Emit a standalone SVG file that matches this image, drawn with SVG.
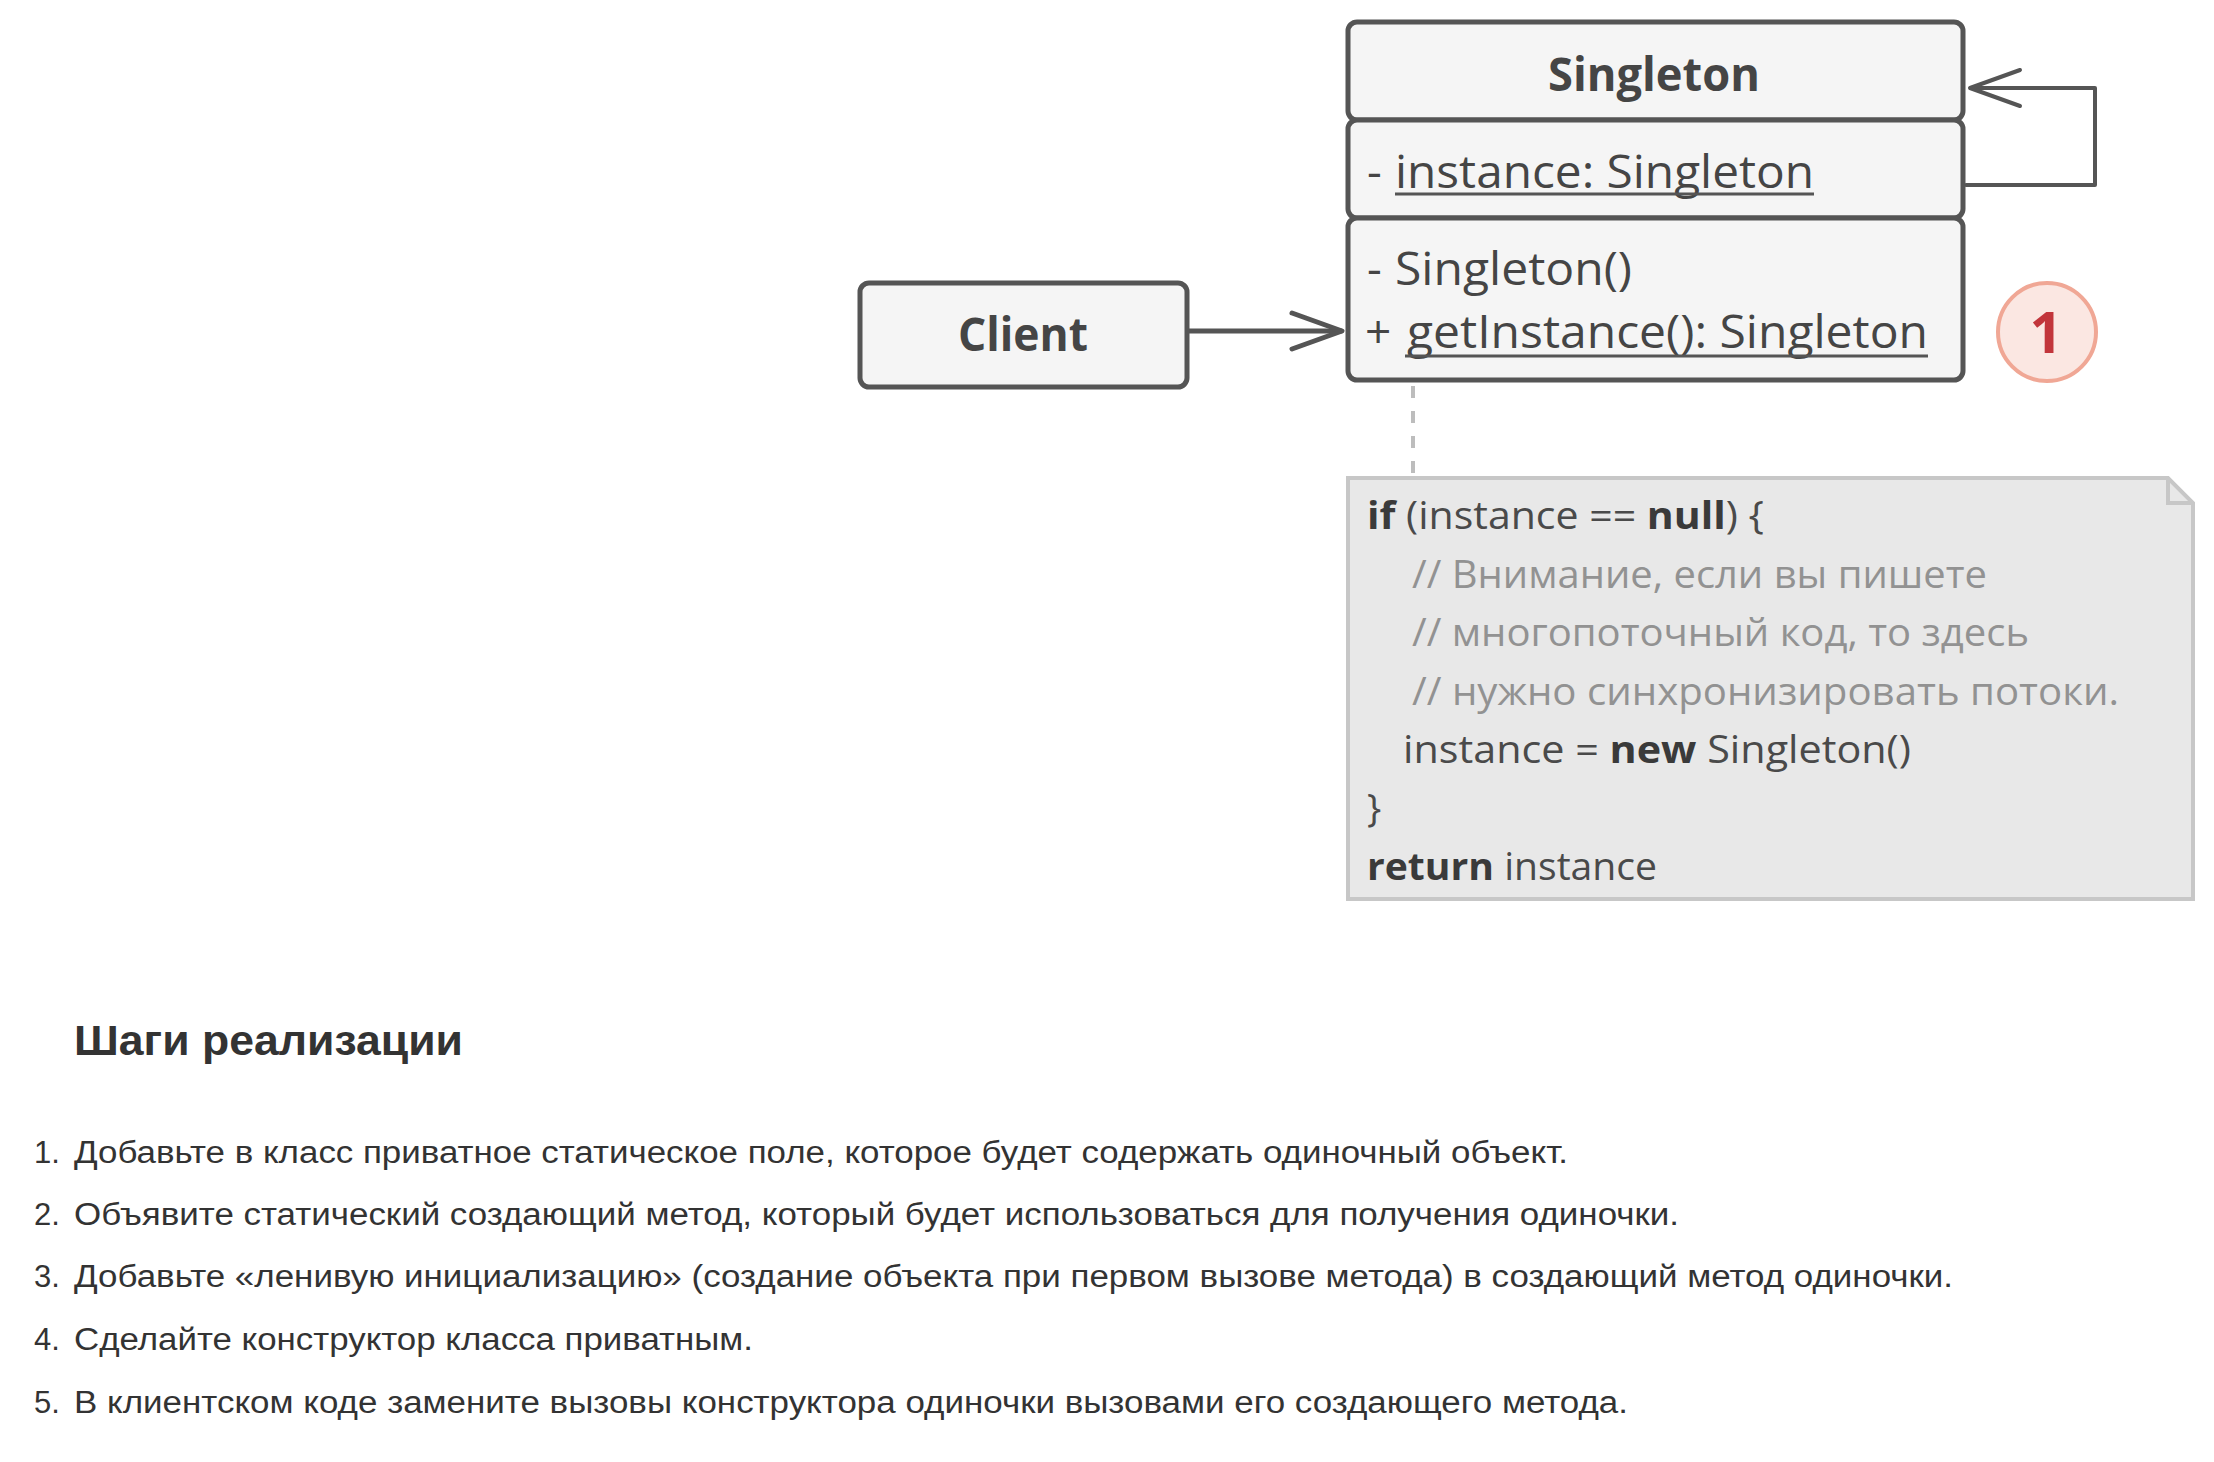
<svg xmlns="http://www.w3.org/2000/svg" width="2214" height="1462" viewBox="0 0 2214 1462">
<style>
.box{fill:#f5f5f5;stroke:#555;stroke-width:5}
.ui{font-family:"Open Sans","Noto Sans","Liberation Sans",sans-serif;fill:#454545}
.b{font-weight:bold}
.ul{stroke:#555;stroke-width:3}
.con{fill:none;stroke:#555;stroke-linecap:round;stroke-linejoin:round}
.code{font-family:"Open Sans","Noto Sans","Liberation Sans",sans-serif;font-size:38px;fill:#4a4a4a}
.kw{font-weight:bold;fill:#3a3a3a}
.cm{fill:#929292}
.doc{font-family:"Liberation Sans",Arial,sans-serif;fill:#333}
</style>
<rect width="2214" height="1462" fill="#fff"/>
<g id="connectors">
  <line class="con" x1="1187" y1="331" x2="1341" y2="331" stroke-width="5"/>
  <polyline class="con" points="1292,313 1342,331 1292,349" stroke-width="5"/>
  <polyline class="con" points="1966,185 2095,185 2095,88 1972,88" stroke-width="4"/>
  <polyline class="con" points="2020,70 1970,88 2020,106" stroke-width="4"/>
  <line x1="1413" y1="386" x2="1413" y2="476" stroke="#bdbdbd" stroke-width="4" stroke-dasharray="12 13"/>
</g>
<g id="client">
  <rect class="box" x="860" y="283" width="327" height="104" rx="9"/>
  <text class="ui b" x="958" y="351" font-size="46" textLength="130" lengthAdjust="spacingAndGlyphs">Client</text>
</g>
<g id="singleton">
  <rect class="box" x="1348" y="22" width="615" height="98" rx="9"/>
  <rect class="box" x="1348" y="120" width="615" height="98" rx="9"/>
  <rect class="box" x="1348" y="218" width="615" height="162" rx="9"/>
  <text class="ui b" x="1548" y="91" font-size="46" textLength="212" lengthAdjust="spacingAndGlyphs">Singleton</text>
  <text class="ui" x="1367" y="188" font-size="46">-</text>
  <text class="ui" x="1395" y="188" font-size="46" textLength="419" lengthAdjust="spacingAndGlyphs">instance: Singleton</text>
  <line class="ul" x1="1395" y1="194" x2="1814" y2="194"/>
  <text class="ui" x="1367" y="285" font-size="46">-</text>
  <text class="ui" x="1395" y="285" font-size="46" textLength="237" lengthAdjust="spacingAndGlyphs">Singleton()</text>
  <text class="ui" x="1365" y="348" font-size="46">+</text>
  <text class="ui" x="1407" y="348" font-size="46" textLength="521" lengthAdjust="spacingAndGlyphs">getInstance(): Singleton</text>
  <line class="ul" x1="1405" y1="356" x2="1928" y2="356"/>
</g>
<g id="step1">
  <circle cx="2047" cy="332" r="49" fill="#fbe7e2" stroke="#f0a795" stroke-width="4"/>
  <text x="2046" y="353" text-anchor="middle" font-family="'Open Sans','Noto Sans',sans-serif" font-weight="bold" font-size="58" fill="#c2353b">1</text>
</g>
<g id="note">
  <polygon points="1348,478 2168,478 2193,503 2193,899 1348,899" fill="#e8e8e8" stroke="#c7c7c7" stroke-width="4"/>
  <polyline points="2168,478 2168,503 2193,503" fill="none" stroke="#c7c7c7" stroke-width="4"/>
  <text class="code" x="1367" y="529" textLength="397" lengthAdjust="spacingAndGlyphs"><tspan class="kw">if</tspan> (instance == <tspan class="kw">null</tspan>) {</text>
  <text class="code cm" x="1412" y="588" textLength="575" lengthAdjust="spacingAndGlyphs">// Внимание, если вы пишете</text>
  <text class="code cm" x="1412" y="646" textLength="617" lengthAdjust="spacingAndGlyphs">// многопоточный код, то здесь</text>
  <text class="code cm" x="1412" y="705" textLength="707" lengthAdjust="spacingAndGlyphs">// нужно синхронизировать потоки.</text>
  <text class="code" x="1403" y="763" textLength="508" lengthAdjust="spacingAndGlyphs">instance = <tspan class="kw">new</tspan> Singleton()</text>
  <text class="code" x="1367" y="822">}</text>
  <text class="code" x="1367" y="880" textLength="290" lengthAdjust="spacingAndGlyphs"><tspan class="kw">return</tspan> instance</text>
</g>
<g id="steps">
  <text class="doc" x="74" y="1055" font-size="43" font-weight="bold" textLength="389" lengthAdjust="spacingAndGlyphs">Шаги реализации</text>
  <text class="doc" x="34" y="1163" font-size="31">1.</text>
  <text class="doc" x="74" y="1163" font-size="31" textLength="1494" lengthAdjust="spacingAndGlyphs">Добавьте в класс приватное статическое поле, которое будет содержать одиночный объект.</text>
  <text class="doc" x="34" y="1225" font-size="31">2.</text>
  <text class="doc" x="74" y="1225" font-size="31" textLength="1605" lengthAdjust="spacingAndGlyphs">Объявите статический создающий метод, который будет использоваться для получения одиночки.</text>
  <text class="doc" x="34" y="1287" font-size="31">3.</text>
  <text class="doc" x="74" y="1287" font-size="31" textLength="1879" lengthAdjust="spacingAndGlyphs">Добавьте «ленивую инициализацию» (создание объекта при первом вызове метода) в создающий метод одиночки.</text>
  <text class="doc" x="34" y="1350" font-size="31">4.</text>
  <text class="doc" x="74" y="1350" font-size="31" textLength="679" lengthAdjust="spacingAndGlyphs">Сделайте конструктор класса приватным.</text>
  <text class="doc" x="34" y="1413" font-size="31">5.</text>
  <text class="doc" x="74" y="1413" font-size="31" textLength="1554" lengthAdjust="spacingAndGlyphs">В клиентском коде замените вызовы конструктора одиночки вызовами его создающего метода.</text>
</g>
</svg>
